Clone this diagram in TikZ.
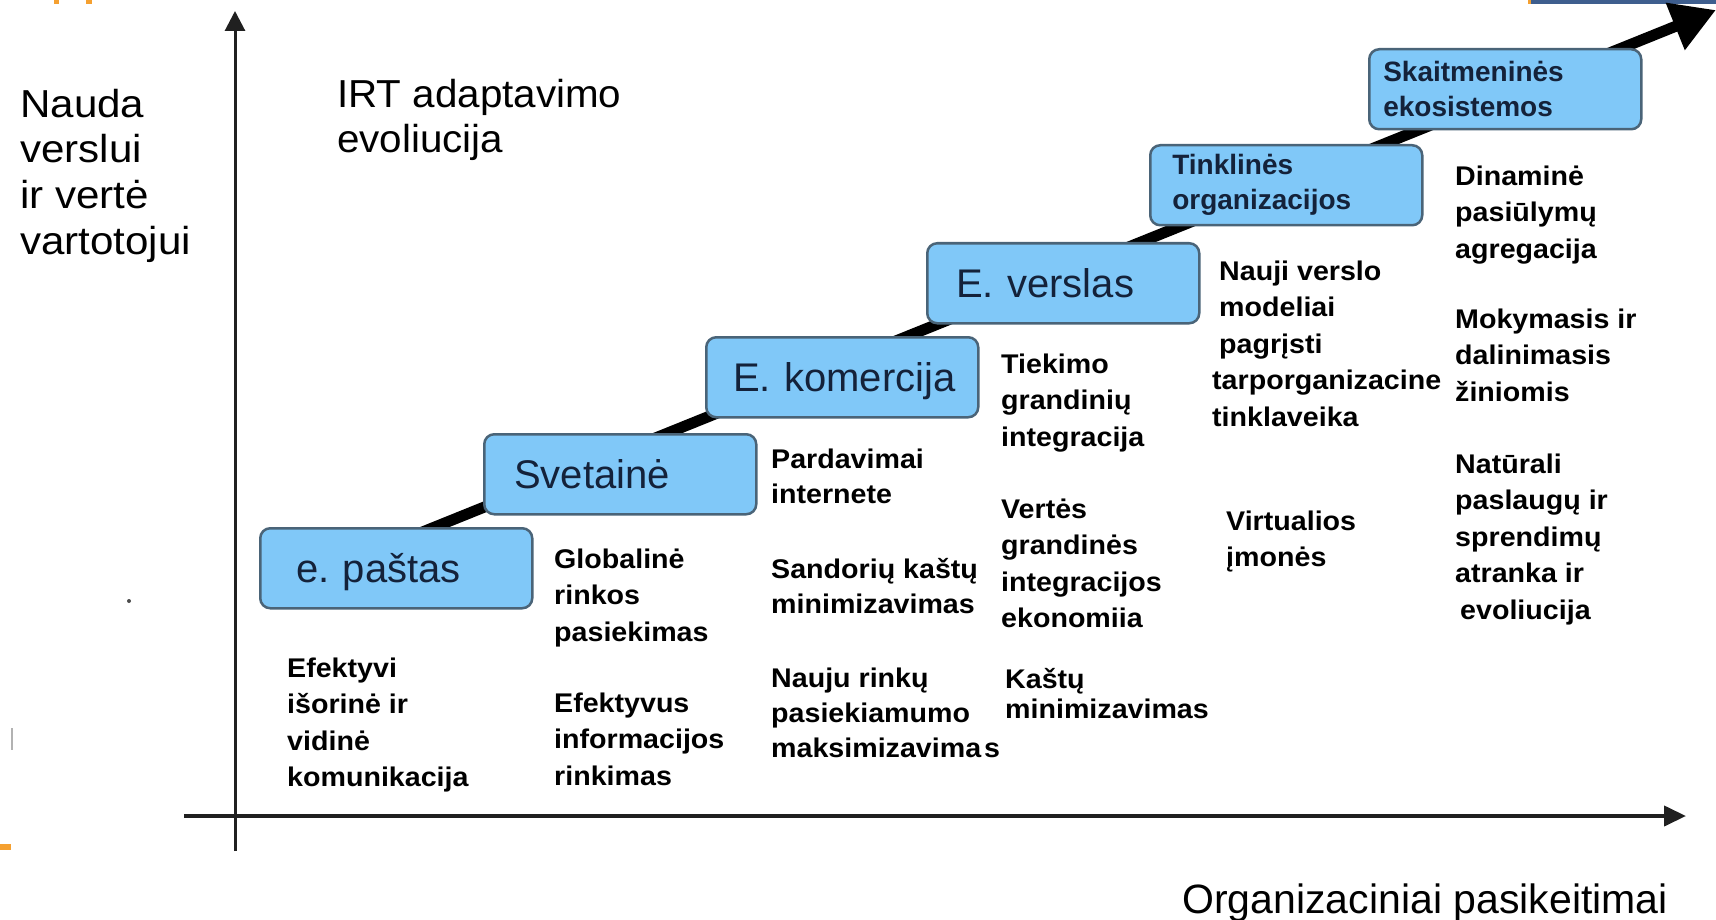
\documentclass[tikz,border=0pt]{standalone}
\usepackage{fontspec}
\setmainfont{Liberation Sans}
\newfontfamily\bodyfam[FakeStretch=1.06]{Liberation Sans}
\newfontfamily\naudafam[FakeStretch=1.08]{Liberation Sans}
\newfontfamily\titlefam[FakeStretch=1.035]{Liberation Sans}
\usetikzlibrary{arrows.meta}
\definecolor{boxfill}{HTML}{80C8F8}
\definecolor{boxline}{HTML}{4A6478}
\definecolor{boxtext}{HTML}{14223A}
\definecolor{orangemark}{HTML}{F5A030}
\definecolor{bluebar}{HTML}{3E5E8E}
\definecolor{axiscol}{HTML}{202020}
\newcommand\fbody{\bodyfam\bfseries\fontsize{27}{36.5}\selectfont}
\newcommand\fbodyb{\bodyfam\bfseries\fontsize{27}{35.3}\selectfont}
\newcommand\fbodyc{\bodyfam\bfseries\fontsize{27}{30}\selectfont}
\newcommand\fstage{\fontsize{40}{46}\selectfont}
\newcommand\fstagesmall{\bfseries\fontsize{28}{35}\selectfont}
\newcommand\fnauda{\naudafam\fontsize{39}{45.7}\selectfont}
\newcommand\ftitle{\titlefam\fontsize{39}{45}\selectfont}
\newcommand\tstrut{\rule{0pt}{27pt}}
\newcommand\hstrut{\rule{0pt}{39pt}}
\begin{document}
\begin{tikzpicture}[x=1pt,y=-1pt,
  txt/.style={anchor=north west, inner sep=0pt, align=left, font=\fbody, text=black},
  boxbase/.style={anchor=north west, draw=boxline, line width=2.5pt, fill=boxfill,
    rounded corners=10pt, minimum height=80pt, inner ysep=0pt, inner xsep=4pt,
    text width=264pt, align=left, text=boxtext},
  stage/.style={boxbase, font=\fstage, text height=36pt, text depth=8pt},
  stagetwo/.style={boxbase, font=\fstagesmall},
  axis/.style={draw=axiscol},
  headtxt/.style={anchor=north west, inner sep=0pt, align=left, text=black}
]
\useasboundingbox[fill=white] (0,0) rectangle (1716,920);

% slide artefacts
\fill[orangemark] (54,0) rectangle (59,4);
\fill[orangemark] (86,0) rectangle (92,4);
\fill[orangemark] (0,844) rectangle (11,850);
\fill[bluebar] (1531,0) rectangle (1716,4);
\fill[orangemark] (1528,0) rectangle (1531,4);
\draw[gray!60, line width=2pt] (12,728) -- (12,750);
\fill[black!70] (129,601) circle (2);

% axes
\coordinate (ybot) at (235,851);
\coordinate (ytop) at (235,11);
\coordinate (xleft) at (184,816);
\coordinate (xright) at (1686,816);
\draw[axis, line width=3pt, -{Triangle[length=20pt,width=20pt]}] (ybot) -- (ytop);
\draw[axis, line width=4pt, -{Triangle[length=22pt,width=20pt]}] (xleft) -- (xright);

% growth arrow
\coordinate (flowstart) at (420,533);
\coordinate (flowend) at (1716,10);
\draw[line width=11pt, -{Triangle[length=44pt,width=48pt]}, black] (flowstart) -- (flowend);

% stages
\node[stage] (pastas) at (259,527) {\hspace*{32pt}e.\ paštas};
\node[stage] (svet) at (483,433) {\hspace*{26pt}Svetainė};
\node[stage] (kom) at (705,336) {\hspace*{23pt}E.\ komercija};
\node[stage] (vers) at (926,242) {\hspace*{25pt}E.\ verslas};
\node[stagetwo] (tink) at (1149,144) {\hspace*{18pt}Tinklinės\\\hspace*{18pt}organizacijos};
\node[stagetwo] (skait) at (1368,48) {\hspace*{10pt}Skaitmeninės\\\hspace*{10pt}ekosistemos};

% axis labels and title
\node[headtxt, font=\fnauda] (nauda) at (20,78) {\hstrut Nauda\\verslui\\ir vertė\\vartotojui};
\node[headtxt, font=\ftitle] (title) at (337,68) {\hstrut IRT adaptavimo\\evoliucija};
\node[anchor=base east, inner sep=0pt, font=\fontsize{41}{46}\selectfont] (xlabel) at (1668,913) {Organizaciniai pasikeitimai};

% descriptions
\node[txt] (eff) at (287,650) {\tstrut Efektyvi\\išorinė ir\\vidinė\\komunikacija};
\node[txt] (glob) at (554,541) {\tstrut Globalinė\\rinkos\\pasiekimas};
\node[txt] (efv) at (554,685) {\tstrut Efektyvus\\informacijos\\rinkimas};
\node[txt, font=\fbodyb] (pard) at (771,441) {\tstrut Pardavimai\\internete};
\node[txt, font=\fbodyb] (sand) at (771,551) {\tstrut Sandorių kaštų\\minimizavimas};
\node[txt, font=\fbodyb] (nauju) at (771,660) {\tstrut Nauju rinkų\\pasiekiamumo\\maksimizavima\hspace{3pt}s};
\node[txt] (tiek) at (1001,346) {\tstrut Tiekimo\\grandinių\\integracija};
\node[txt] (vert) at (1001,491) {\tstrut Vertės\\grandinės\\integracijos\\ekonomiia};
\node[txt, font=\fbodyc] (kast) at (1005,661) {\tstrut Kaštų\\minimizavimas};
\node[txt] (nauji) at (1219,253) {\tstrut Nauji verslo\\modeliai\\pagrįsti\\\hspace*{-7pt}tarporganizacine\\\hspace*{-7pt}tinklaveika};
\node[txt] (virt) at (1226,503) {\tstrut Virtualios\\įmonės};
\node[txt] (dinam) at (1455,158) {\tstrut Dinaminė\\pasiūlymų\\agregacija};
\node[txt] (moky) at (1455,301) {\tstrut Mokymasis ir\\dalinimasis\\žiniomis};
\node[txt] (natur) at (1455,446) {\tstrut Natūrali\\paslaugų ir\\sprendimų\\atranka ir\\\hspace*{5pt}evoliucija};
\end{tikzpicture}
\end{document}
